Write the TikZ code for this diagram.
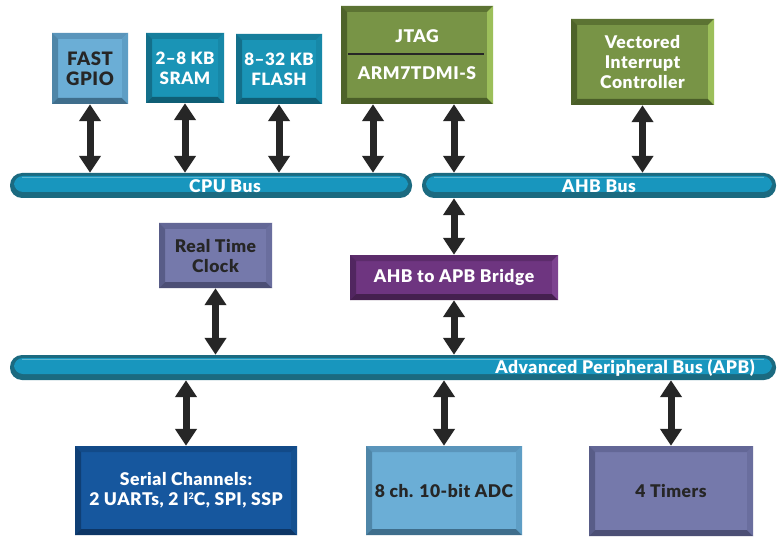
\documentclass[tikz,border=0pt]{standalone}
\usepackage{fontspec}
\setmainfont{Lato}[BoldFont={Lato Black},BoldFeatures={LetterSpace=3}]
\usetikzlibrary{arrows.meta}
\definecolor{arrowc}{HTML}{262626}
\definecolor{txtdark}{HTML}{262626}
% light blue
\definecolor{lbF}{HTML}{6BAED6}\definecolor{lbT}{HTML}{5A95BB}\definecolor{lbL}{HTML}{4F86A8}\definecolor{lbB}{HTML}{3F6E8C}\definecolor{lbR}{HTML}{5E9EC5}
% teal
\definecolor{tlF}{HTML}{1A94B6}\definecolor{tlT}{HTML}{167E9C}\definecolor{tlL}{HTML}{136F8A}\definecolor{tlB}{HTML}{0F5E75}\definecolor{tlR}{HTML}{1788A8}
% green
\definecolor{grF}{HTML}{789446}\definecolor{grT}{HTML}{5C7333}\definecolor{grL}{HTML}{4E632A}\definecolor{grB}{HTML}{4A5E28}\definecolor{grR}{HTML}{9CBF5A}
% slate
\definecolor{slF}{HTML}{7579AB}\definecolor{slT}{HTML}{636796}\definecolor{slL}{HTML}{585C87}\definecolor{slB}{HTML}{4C4F75}\definecolor{slR}{HTML}{6A6E9E}
% purple
\definecolor{puF}{HTML}{6E3580}\definecolor{puT}{HTML}{5C2C6B}\definecolor{puL}{HTML}{512660}\definecolor{puB}{HTML}{45204F}\definecolor{puR}{HTML}{7D4390}
% dark blue
\definecolor{dbF}{HTML}{16579E}\definecolor{dbT}{HTML}{124A88}\definecolor{dbL}{HTML}{0F3F75}\definecolor{dbB}{HTML}{0D3666}\definecolor{dbR}{HTML}{14508F}
% bus
\definecolor{busdark}{HTML}{1B6A80}\definecolor{busmain}{HTML}{1896BE}\definecolor{buslight}{HTML}{5DB6D0}
\def\bevw{6pt}
\tikzset{
  bev/.style args={#1/#2/#3/#4/#5}{fill=#1, inner sep=0pt, align=center,
    font=\bfseries\fontsize{17.5}{20}\selectfont,
    path picture={
      \fill[#2] (path picture bounding box.north west) -- (path picture bounding box.north east)
        -- ([shift={(-\bevw,-\bevw)}]path picture bounding box.north east)
        -- ([shift={(\bevw,-\bevw)}]path picture bounding box.north west) -- cycle;
      \fill[#3] (path picture bounding box.north west) -- ([shift={(\bevw,-\bevw)}]path picture bounding box.north west)
        -- ([shift={(\bevw,\bevw)}]path picture bounding box.south west) -- (path picture bounding box.south west) -- cycle;
      \fill[#4] (path picture bounding box.south west) -- ([shift={(\bevw,\bevw)}]path picture bounding box.south west)
        -- ([shift={(-\bevw,\bevw)}]path picture bounding box.south east) -- (path picture bounding box.south east) -- cycle;
      \fill[#5] (path picture bounding box.north east) -- ([shift={(-\bevw,-\bevw)}]path picture bounding box.north east)
        -- ([shift={(-\bevw,\bevw)}]path picture bounding box.south east) -- (path picture bounding box.south east) -- cycle;
    }},
  lightblue/.style={bev=lbF/lbT/lbL/lbB/lbR, text=txtdark},
  teal/.style={bev=tlF/tlT/tlL/tlB/tlR, text=white},
  green/.style={bev=grF/grT/grL/grB/grR, text=white},
  slate/.style={bev=slF/slT/slL/slB/slR, text=txtdark},
  purple/.style={bev=puF/puT/puL/puB/puR, text=white},
  darkblue/.style={bev=dbF/dbT/dbL/dbB/dbR, text=white},
  bus/.style={minimum height=25pt, inner sep=0pt, rounded corners=12pt, fill=busdark,
    path picture={
      \fill[busmain, rounded corners=9pt] ([shift={(4pt,-3pt)}]path picture bounding box.north west)
        rectangle ([shift={(-4pt,6pt)}]path picture bounding box.south east);
      \draw[buslight, line width=1.5pt] ([shift={(12pt,-4.5pt)}]path picture bounding box.north west)
        -- ([shift={(-12pt,-4.5pt)}]path picture bounding box.north east);
    }},
  buslabel/.style={text=white, font=\bfseries\fontsize{17.5}{18}\selectfont, inner sep=0pt},
  arr/.style={line width=7pt, draw=arrowc,
    {Triangle[width=21pt,length=17pt]}-{Triangle[width=21pt,length=17pt]}},
}
\begin{document}
\begin{tikzpicture}[x=1pt,y=-1pt]
\useasboundingbox[fill=white] (0,0) rectangle (778,537);

% top row
\node[lightblue, minimum width=76pt, minimum height=71pt, font=\bfseries\fontsize{18.5}{20}\selectfont] (gpio) at (90,68.5) {FAST\\GPIO};
\node[teal, minimum width=78pt, minimum height=70pt, font=\bfseries\fontsize{17}{20}\selectfont] (sram) at (185,68) {2–8 KB\\SRAM};
\node[teal, minimum width=86pt, minimum height=70pt, font=\bfseries\fontsize{17}{20}\selectfont] (flash) at (279,69) {8–32 KB\\FLASH};
\node[green, minimum width=152pt, minimum height=98pt] (cpu) at (417,55) {};
\draw[arrowc, line width=2pt] ([shift={(7pt,1pt)}]cpu.west) -- ([shift={(-9pt,1pt)}]cpu.east);
\node[text=white, font=\bfseries\fontsize{17.5}{18}\selectfont, inner sep=0pt] (jtag) at ([yshift=19pt]cpu.center) {JTAG};
\node[text=white, font=\bfseries\fontsize{17.5}{18}\selectfont, inner sep=0pt] (arm) at ([yshift=-18pt]cpu.center) {ARM7TDMI-S};
\node[green, minimum width=143pt, minimum height=86pt] (vic) at (642.5,62) {Vectored\\Interrupt\\Controller};

% buses
\node[bus, minimum width=402pt] (cpubus) at (211,185.5) {};
\node[buslabel] (cpulbl) at (225,186) {CPU Bus};
\node[bus, minimum width=354pt] (ahbbus) at (599,185.5) {};
\node[buslabel] (ahblbl) at (599,186) {AHB Bus};
\node[bus, minimum width=766pt] (apbbus) at (393,367.5) {};
\node[buslabel] (apblbl) at (625,368) {Advanced Peripheral Bus (APB)};

% middle
\node[slate, minimum width=113pt, minimum height=65pt] (rtc) at (215.5,255.5) {Real Time\\Clock};
\node[purple, minimum width=208pt, minimum height=45pt] (bridge) at (454,277.5) {AHB to APB Bridge};

% bottom
\node[darkblue, minimum width=222pt, minimum height=89pt] (serial) at (186,490.5) {Serial Channels:\\2 UARTs, 2 I\raisebox{6pt}{\fontsize{9}{9}\selectfont 2}C, SPI, SSP};
\node[lightblue, minimum width=156pt, minimum height=89pt] (adc) at (444,490.5) {8 ch. 10-bit ADC};
\node[slate, minimum width=164pt, minimum height=90pt] (timers) at (671,491) {4 Timers};

% arrows
\draw[arr] (gpio.south) -- (gpio.south |- cpubus.north);
\draw[arr] (sram.south) -- (sram.south |- cpubus.north);
\draw[arr] (flash.south) -- (flash.south |- cpubus.north);
\draw[arr] ([xshift=-44pt]cpu.south) -- ([xshift=-44pt]cpu.south |- cpubus.north);
\draw[arr] ([xshift=37pt]cpu.south) -- ([xshift=37pt]cpu.south |- ahbbus.north);
\draw[arr] (vic.south) -- (vic.south |- ahbbus.north);
\draw[arr] (ahbbus.south -| bridge.north) -- (bridge.north);
\draw[arr] (bridge.south) -- (bridge.south |- apbbus.north);
\draw[arr] (rtc.south) -- (rtc.south |- apbbus.north);
\draw[arr] (apbbus.south -| serial.north) -- (serial.north);
\draw[arr] (apbbus.south -| adc.north) -- (adc.north);
\draw[arr] (apbbus.south -| timers.north) -- (timers.north);
\end{tikzpicture}
\end{document}
